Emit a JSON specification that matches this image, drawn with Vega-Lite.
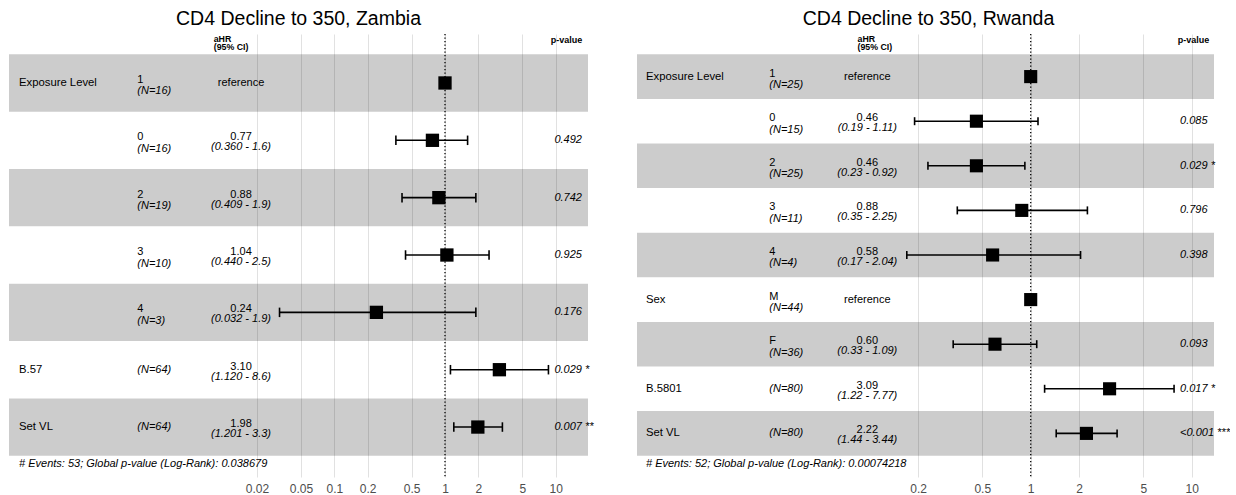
{
  "$schema": "https://vega.github.io/schema/vega-lite/v6.json",
  "background": "white",
  "padding": {"left": 9, "top": 8, "right": 0, "bottom": 0},
  "autosize": {"type": "pad"},
  "bounds": "flush",
  "spacing": 49,
  "config": {"view": {"stroke": null}, "font": "Liberation Sans", "text": {"font": "Liberation Sans"}},
  "datasets": {
    "zambia": [
      {"row": 1, "var": "Exposure Level", "level": "1", "nlab": "(N=16)", "est": "reference", "ci": "", "hr": 1, "lo": null, "hi": null, "p": ""},
      {"row": 2, "var": "", "level": "0", "nlab": "(N=16)", "est": "0.77", "ci": "(0.360 - 1.6)", "hr": 0.77, "lo": 0.36, "hi": 1.6, "p": "0.492"},
      {"row": 3, "var": "", "level": "2", "nlab": "(N=19)", "est": "0.88", "ci": "(0.409 - 1.9)", "hr": 0.88, "lo": 0.409, "hi": 1.9, "p": "0.742"},
      {"row": 4, "var": "", "level": "3", "nlab": "(N=10)", "est": "1.04", "ci": "(0.440 - 2.5)", "hr": 1.04, "lo": 0.44, "hi": 2.5, "p": "0.925"},
      {"row": 5, "var": "", "level": "4", "nlab": "(N=3)", "est": "0.24", "ci": "(0.032 - 1.9)", "hr": 0.24, "lo": 0.032, "hi": 1.9, "p": "0.176"},
      {"row": 6, "var": "B.57", "level": "", "nlab": "(N=64)", "est": "3.10", "ci": "(1.120 - 8.6)", "hr": 3.10, "lo": 1.12, "hi": 8.6, "p": "0.029 *"},
      {"row": 7, "var": "Set VL", "level": "", "nlab": "(N=64)", "est": "1.98", "ci": "(1.201 - 3.3)", "hr": 1.98, "lo": 1.201, "hi": 3.3, "p": "0.007 **"}
    ],
    "rwanda": [
      {"row": 1, "var": "Exposure Level", "level": "1", "nlab": "(N=25)", "est": "reference", "ci": "", "hr": 1, "lo": null, "hi": null, "p": ""},
      {"row": 2, "var": "", "level": "0", "nlab": "(N=15)", "est": "0.46", "ci": "(0.19 - 1.11)", "hr": 0.46, "lo": 0.19, "hi": 1.11, "p": "0.085"},
      {"row": 3, "var": "", "level": "2", "nlab": "(N=25)", "est": "0.46", "ci": "(0.23 - 0.92)", "hr": 0.46, "lo": 0.23, "hi": 0.92, "p": "0.029 *"},
      {"row": 4, "var": "", "level": "3", "nlab": "(N=11)", "est": "0.88", "ci": "(0.35 - 2.25)", "hr": 0.88, "lo": 0.35, "hi": 2.25, "p": "0.796"},
      {"row": 5, "var": "", "level": "4", "nlab": "(N=4)", "est": "0.58", "ci": "(0.17 - 2.04)", "hr": 0.58, "lo": 0.17, "hi": 2.04, "p": "0.398"},
      {"row": 6, "var": "Sex", "level": "M", "nlab": "(N=44)", "est": "reference", "ci": "", "hr": 1, "lo": null, "hi": null, "p": ""},
      {"row": 7, "var": "", "level": "F", "nlab": "(N=36)", "est": "0.60", "ci": "(0.33 - 1.09)", "hr": 0.60, "lo": 0.33, "hi": 1.09, "p": "0.093"},
      {"row": 8, "var": "B.5801", "level": "", "nlab": "(N=80)", "est": "3.09", "ci": "(1.22 - 7.77)", "hr": 3.09, "lo": 1.22, "hi": 7.77, "p": "0.017 *"},
      {"row": 9, "var": "Set VL", "level": "", "nlab": "(N=80)", "est": "2.22", "ci": "(1.44 - 3.44)", "hr": 2.22, "lo": 1.44, "hi": 3.44, "p": "<0.001 ***"}
    ]
  },
  "hconcat": [
    {
      "width": 579,
      "height": 443,
      "title": {"text": "CD4 Decline to 350, Zambia", "fontSize": 19.5, "fontWeight": "normal", "font": "Liberation Sans", "color": "black", "anchor": "middle", "frame": "group", "baseline": "alphabetic", "offset": -10.7},
      "data": {"name": "zambia"},
      "layer": [
        {
          "transform": [{"filter": "datum.row % 2 === 1"}],
          "mark": {"type": "bar", "orient": "horizontal", "height": 57.34, "fill": "#000000", "fillOpacity": 0.2, "stroke": null},
          "encoding": {
            "x": {"datum": 0.00011515, "type": "quantitative",
                  "scale": {"type": "log", "domain": [0.00011515, 19.58], "nice": false, "zero": false, "padding": 0},
                  "axis": {"title": null, "values": [0.02, 0.05, 0.1, 0.2, 0.5, 1, 2, 5, 10], "format": "~g", "grid": true, "gridColor": "#DEDEDE", "gridWidth": 0.9, "ticks": false, "domain": false, "labelPadding": 6, "labelFontSize": 12, "labelColor": "#4D4D4D", "labelFont": "Liberation Sans", "labelFlush": false, "labelOverlap": false}},
            "x2": {"datum": 19.58},
            "y": {"field": "row", "type": "quantitative", "scale": {"domain": [0.146, 7.871], "reverse": true, "nice": false, "zero": false, "padding": 0}, "axis": null}
          }
        },
        {
          "data": {"values": [{"ref": 1}]},
          "mark": {"type": "rule", "color": "black", "strokeWidth": 1.3, "strokeDash": [1.3, 2.2]},
          "encoding": {"x": {"field": "ref", "type": "quantitative"}}
        },
        {
          "mark": {"type": "rule", "color": "black", "strokeWidth": 1.6},
          "encoding": {"x": {"field": "lo", "type": "quantitative"}, "x2": {"field": "hi"}, "y": {"field": "row", "type": "quantitative"}}
        },
        {
          "mark": {"type": "tick", "orient": "vertical", "color": "black", "size": 9.5, "thickness": 1.6, "opacity": 1},
          "encoding": {"x": {"field": "lo", "type": "quantitative"}, "y": {"field": "row", "type": "quantitative"}}
        },
        {
          "mark": {"type": "tick", "orient": "vertical", "color": "black", "size": 9.5, "thickness": 1.6, "opacity": 1},
          "encoding": {"x": {"field": "hi", "type": "quantitative"}, "y": {"field": "row", "type": "quantitative"}}
        },
        {
          "mark": {"type": "point", "shape": "square", "filled": true, "size": 177, "color": "black", "opacity": 1},
          "encoding": {"x": {"field": "hr", "type": "quantitative"}, "y": {"field": "row", "type": "quantitative"}}
        },
        {
          "mark": {"type": "text", "align": "left", "baseline": "middle", "fontSize": 11.3, "color": "black"},
          "encoding": {"x": {"datum": 0.0001418}, "y": {"field": "row", "type": "quantitative"}, "text": {"field": "var"}}
        },
        {
          "transform": [{"filter": "datum.level !== ''"}],
          "mark": {"type": "text", "align": "left", "baseline": "alphabetic", "dy": 0, "fontSize": 11, "color": "black"},
          "encoding": {"x": {"datum": 0.001661}, "y": {"field": "row", "type": "quantitative"}, "text": {"field": "level"}}
        },
        {
          "transform": [{"filter": "datum.level !== ''"}],
          "mark": {"type": "text", "align": "left", "baseline": "alphabetic", "dy": 11.5, "fontSize": 11, "fontStyle": "italic", "color": "black"},
          "encoding": {"x": {"datum": 0.001661}, "y": {"field": "row", "type": "quantitative"}, "text": {"field": "nlab"}}
        },
        {
          "transform": [{"filter": "datum.level === ''"}],
          "mark": {"type": "text", "align": "left", "baseline": "middle", "fontSize": 11, "fontStyle": "italic", "color": "black"},
          "encoding": {"x": {"datum": 0.001661}, "y": {"field": "row", "type": "quantitative"}, "text": {"field": "nlab"}}
        },
        {
          "transform": [{"filter": "datum.est === 'reference'"}],
          "mark": {"type": "text", "align": "center", "baseline": "middle", "fontSize": 11, "color": "black"},
          "encoding": {"x": {"datum": 0.01437}, "y": {"field": "row", "type": "quantitative"}, "text": {"field": "est"}}
        },
        {
          "transform": [{"filter": "datum.est !== 'reference'"}],
          "mark": {"type": "text", "align": "center", "baseline": "alphabetic", "dy": 0, "fontSize": 11, "color": "black"},
          "encoding": {"x": {"datum": 0.01437}, "y": {"field": "row", "type": "quantitative"}, "text": {"field": "est"}}
        },
        {
          "transform": [{"filter": "datum.ci !== ''"}],
          "mark": {"type": "text", "align": "center", "baseline": "alphabetic", "dy": 10, "fontSize": 11, "fontStyle": "italic", "color": "black"},
          "encoding": {"x": {"datum": 0.01437}, "y": {"field": "row", "type": "quantitative"}, "text": {"field": "ci"}}
        },
        {
          "mark": {"type": "text", "align": "left", "baseline": "middle", "dx": 6, "fontSize": 11, "fontStyle": "italic", "color": "black"},
          "encoding": {"x": {"datum": 8.6}, "y": {"field": "row", "type": "quantitative"}, "text": {"field": "p"}}
        },
        {
          "data": {"values": [{"t": "aHR"}]},
          "mark": {"type": "text", "align": "left", "baseline": "alphabetic", "dy": -12.2, "fontSize": 8.8, "fontWeight": "bold", "color": "black"},
          "encoding": {"x": {"datum": 0.008137}, "y": {"datum": 0.5}, "text": {"field": "t"}}
        },
        {
          "data": {"values": [{"t": "(95% CI)"}]},
          "mark": {"type": "text", "align": "left", "baseline": "alphabetic", "dy": -4.2, "fontSize": 8.8, "fontWeight": "bold", "color": "black"},
          "encoding": {"x": {"datum": 0.008137}, "y": {"datum": 0.5}, "text": {"field": "t"}}
        },
        {
          "data": {"values": [{"t": "p-value"}]},
          "mark": {"type": "text", "align": "left", "baseline": "alphabetic", "dy": -11.8, "fontSize": 9, "fontWeight": "bold", "color": "black"},
          "encoding": {"x": {"datum": 9.013}, "y": {"datum": 0.5}, "text": {"field": "t"}}
        },
        {
          "data": {"values": [{"t": "# Events: 53; Global p-value (Log-Rank): 0.038679"}]},
          "mark": {"type": "text", "align": "left", "baseline": "alphabetic", "dy": 11.3, "fontSize": 11, "fontStyle": "italic", "color": "black"},
          "encoding": {"x": {"datum": 0.0001418}, "y": {"datum": 7.5}, "text": {"field": "t"}}
        }
      ]
    },
    {
      "width": 577,
      "height": 443,
      "title": {"text": "CD4 Decline to 350, Rwanda", "fontSize": 19.5, "fontWeight": "normal", "font": "Liberation Sans", "color": "black", "anchor": "middle", "frame": "group", "baseline": "alphabetic", "offset": -10.7, "dx": 3},
      "data": {"name": "rwanda"},
      "layer": [
        {
          "transform": [{"filter": "datum.row % 2 === 1"}],
          "mark": {"type": "bar", "orient": "horizontal", "height": 44.6, "fill": "#000000", "fillOpacity": 0.2, "stroke": null},
          "encoding": {
            "x": {"datum": 0.003586, "type": "quantitative",
                  "scale": {"type": "log", "domain": [0.003586, 13.756], "nice": false, "zero": false, "padding": 0},
                  "axis": {"title": null, "values": [0.2, 0.5, 1, 2, 5, 10], "format": "~g", "grid": true, "gridColor": "#DEDEDE", "gridWidth": 0.9, "ticks": false, "domain": false, "labelPadding": 6, "labelFontSize": 12, "labelColor": "#4D4D4D", "labelFont": "Liberation Sans", "labelFlush": false, "labelOverlap": false}},
            "x2": {"datum": 13.756},
            "y": {"field": "row", "type": "quantitative", "scale": {"domain": [0.0448, 9.978], "reverse": true, "nice": false, "zero": false, "padding": 0}, "axis": null}
          }
        },
        {
          "data": {"values": [{"ref": 1}]},
          "mark": {"type": "rule", "color": "black", "strokeWidth": 1.3, "strokeDash": [1.3, 2.2]},
          "encoding": {"x": {"field": "ref", "type": "quantitative"}}
        },
        {
          "mark": {"type": "rule", "color": "black", "strokeWidth": 1.6},
          "encoding": {"x": {"field": "lo", "type": "quantitative"}, "x2": {"field": "hi"}, "y": {"field": "row", "type": "quantitative"}}
        },
        {
          "mark": {"type": "tick", "orient": "vertical", "color": "black", "size": 8, "thickness": 1.6, "opacity": 1},
          "encoding": {"x": {"field": "lo", "type": "quantitative"}, "y": {"field": "row", "type": "quantitative"}}
        },
        {
          "mark": {"type": "tick", "orient": "vertical", "color": "black", "size": 8, "thickness": 1.6, "opacity": 1},
          "encoding": {"x": {"field": "hi", "type": "quantitative"}, "y": {"field": "row", "type": "quantitative"}}
        },
        {
          "mark": {"type": "point", "shape": "square", "filled": true, "size": 172, "color": "black", "opacity": 1},
          "encoding": {"x": {"field": "hr", "type": "quantitative"}, "y": {"field": "row", "type": "quantitative"}}
        },
        {
          "mark": {"type": "text", "align": "left", "baseline": "middle", "fontSize": 11.3, "color": "black"},
          "encoding": {"x": {"datum": 0.004078}, "y": {"field": "row", "type": "quantitative"}, "text": {"field": "var"}}
        },
        {
          "transform": [{"filter": "datum.level !== ''"}],
          "mark": {"type": "text", "align": "left", "baseline": "alphabetic", "dy": 0, "fontSize": 11, "color": "black"},
          "encoding": {"x": {"datum": 0.02379}, "y": {"field": "row", "type": "quantitative"}, "text": {"field": "level"}}
        },
        {
          "transform": [{"filter": "datum.level !== ''"}],
          "mark": {"type": "text", "align": "left", "baseline": "alphabetic", "dy": 11.5, "fontSize": 11, "fontStyle": "italic", "color": "black"},
          "encoding": {"x": {"datum": 0.02379}, "y": {"field": "row", "type": "quantitative"}, "text": {"field": "nlab"}}
        },
        {
          "transform": [{"filter": "datum.level === ''"}],
          "mark": {"type": "text", "align": "left", "baseline": "middle", "fontSize": 11, "fontStyle": "italic", "color": "black"},
          "encoding": {"x": {"datum": 0.02379}, "y": {"field": "row", "type": "quantitative"}, "text": {"field": "nlab"}}
        },
        {
          "transform": [{"filter": "datum.est === 'reference'"}],
          "mark": {"type": "text", "align": "center", "baseline": "middle", "fontSize": 11, "color": "black"},
          "encoding": {"x": {"datum": 0.09663}, "y": {"field": "row", "type": "quantitative"}, "text": {"field": "est"}}
        },
        {
          "transform": [{"filter": "datum.est !== 'reference'"}],
          "mark": {"type": "text", "align": "center", "baseline": "alphabetic", "dy": 0, "fontSize": 11, "color": "black"},
          "encoding": {"x": {"datum": 0.09663}, "y": {"field": "row", "type": "quantitative"}, "text": {"field": "est"}}
        },
        {
          "transform": [{"filter": "datum.ci !== ''"}],
          "mark": {"type": "text", "align": "center", "baseline": "alphabetic", "dy": 10, "fontSize": 11, "fontStyle": "italic", "color": "black"},
          "encoding": {"x": {"datum": 0.09663}, "y": {"field": "row", "type": "quantitative"}, "text": {"field": "ci"}}
        },
        {
          "mark": {"type": "text", "align": "left", "baseline": "middle", "dx": 6, "fontSize": 11, "fontStyle": "italic", "color": "black"},
          "encoding": {"x": {"datum": 7.77}, "y": {"field": "row", "type": "quantitative"}, "text": {"field": "p"}}
        },
        {
          "data": {"values": [{"t": "aHR"}]},
          "mark": {"type": "text", "align": "left", "baseline": "alphabetic", "dy": -12.2, "fontSize": 8.8, "fontWeight": "bold", "color": "black"},
          "encoding": {"x": {"datum": 0.08399}, "y": {"datum": 0.5}, "text": {"field": "t"}}
        },
        {
          "data": {"values": [{"t": "(95% CI)"}]},
          "mark": {"type": "text", "align": "left", "baseline": "alphabetic", "dy": -4.2, "fontSize": 8.8, "fontWeight": "bold", "color": "black"},
          "encoding": {"x": {"datum": 0.08399}, "y": {"datum": 0.5}, "text": {"field": "t"}}
        },
        {
          "data": {"values": [{"t": "p-value"}]},
          "mark": {"type": "text", "align": "left", "baseline": "alphabetic", "dy": -11.8, "fontSize": 9, "fontWeight": "bold", "color": "black"},
          "encoding": {"x": {"datum": 8.185}, "y": {"datum": 0.5}, "text": {"field": "t"}}
        },
        {
          "data": {"values": [{"t": "# Events: 52; Global p-value (Log-Rank): 0.00074218"}]},
          "mark": {"type": "text", "align": "left", "baseline": "alphabetic", "dy": 11.3, "fontSize": 11, "fontStyle": "italic", "color": "black"},
          "encoding": {"x": {"datum": 0.004078}, "y": {"datum": 9.5}, "text": {"field": "t"}}
        }
      ]
    }
  ]
}
